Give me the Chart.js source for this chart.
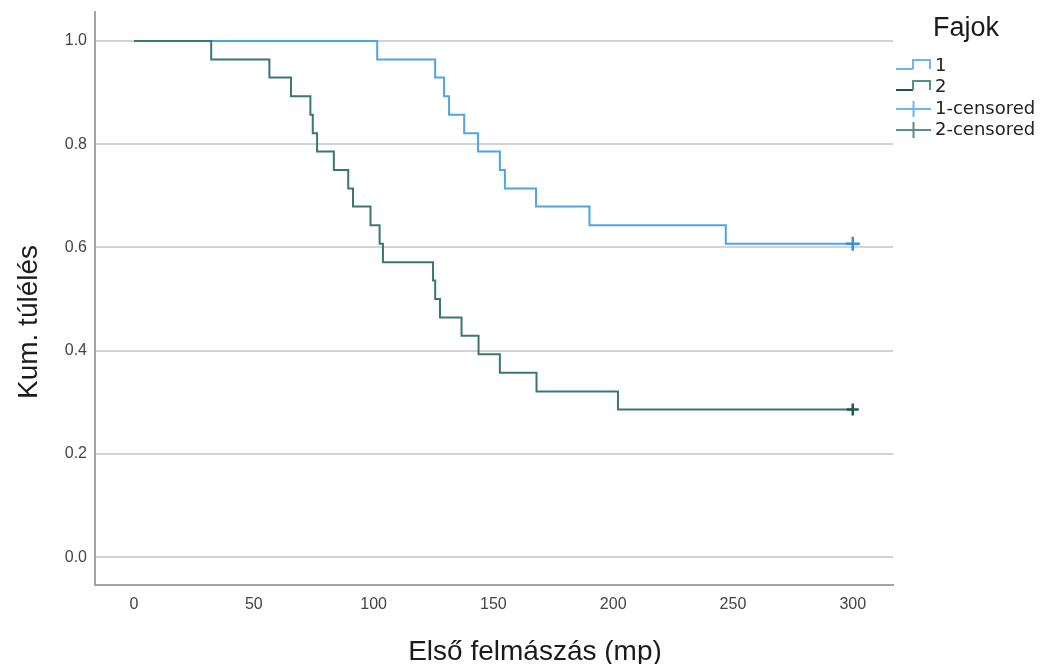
<!DOCTYPE html>
<html>
<head>
<meta charset="utf-8">
<title>Kaplan-Meier</title>
<script src="https://cdn.jsdelivr.net/npm/chart.js@4/dist/chart.umd.min.js"></script>
<style>
  body { margin: 0; background: #fff; }
  #km { display: block; }
</style>
</head>
<body>
<canvas id="km" width="1041" height="664"></canvas>
<script>
// event times (mp) and cumulative survival per group
var times1 = [0, 101.5, 125.7, 129.4, 131.5, 137.8, 143.6, 152.7, 154.8, 167.8, 190.1, 247, 300];
var surv1  = [1, 0.964, 0.929, 0.893, 0.857, 0.821, 0.786, 0.750, 0.714, 0.679, 0.643, 0.607, 0.607];

var times2 = [0, 32.2, 56.5, 65.5, 73.6, 74.6, 76.4, 83.4, 89.4, 91.4, 98.7, 102.5, 103.9,
              124.8, 125.7, 127.7, 136.7, 143.8, 152.7, 168.0, 202, 300];
var surv2  = [1, 0.964, 0.929, 0.893, 0.857, 0.821, 0.786, 0.750, 0.714, 0.679, 0.643, 0.607, 0.571,
              0.536, 0.500, 0.464, 0.429, 0.393, 0.357, 0.321, 0.286, 0.286];

// censored observations
var censTime1 = [300];
var censSurv1 = [0.607];
var censTime2 = [300];
var censSurv2 = [0.286];

var xTicks = [0, 50, 100, 150, 200, 250, 300];
var yTicks = [0.0, 0.2, 0.4, 0.6, 0.8, 1.0];

var groupNames = ["1", "2", "1-censored", "2-censored"];

var BLUE = "#4fa4e6";
var TEAL = "#3a7772";

function toPoints(xs, ys) {
    var pts = [];
    for (var i = 0; i < xs.length; i++) {
        pts.push({ x: xs[i], y: ys[i] });
    }
    return pts;
}

// axis titles and the legend box on the right
var decorations = {
    id: "decorations",
    afterDraw: function(chart) {
        var ctx = chart.ctx;
        ctx.save();
        ctx.fillStyle = "#1b1b1b";
        ctx.font = "28px 'Liberation Sans', Arial, sans-serif";
        ctx.textAlign = "center";
        ctx.textBaseline = "alphabetic";
        ctx.fillText("Első felmászás (mp)", 535, 660);

        ctx.save();
        ctx.translate(37, 322);
        ctx.rotate(-Math.PI / 2);
        ctx.fillText("Kum. túlélés", 0, 0);
        ctx.restore();

        ctx.textAlign = "left";
        ctx.font = "27px 'Liberation Sans', Arial, sans-serif";
        ctx.fillText("Fajok", 933, 36);

        ctx.font = "18px 'DejaVu Sans', sans-serif";
        ctx.textBaseline = "middle";
        ctx.fillStyle = "#222";
        var rows = [66, 87, 109, 130];
        ctx.lineWidth = 2;
        for (var i = 0; i < groupNames.length; i++) {
            var y = rows[i];
            if (i < 2) {
                var low = y + 3, high = y - 6;
                ctx.strokeStyle = i === 0 ? "#6db6ee" : "#24504d";
                ctx.beginPath();
                ctx.moveTo(896, low);
                ctx.lineTo(913, low);
                ctx.stroke();
                ctx.strokeStyle = i === 0 ? "#6db6ee" : "#55918c";
                ctx.beginPath();
                ctx.moveTo(913, low);
                ctx.lineTo(913, high);
                ctx.lineTo(930, high);
                ctx.lineTo(930, low);
                ctx.stroke();
            } else {
                ctx.strokeStyle = i === 2 ? "#6db6ee" : "#55918c";
                ctx.beginPath();
                ctx.moveTo(896, y);
                ctx.lineTo(931, y);
                ctx.moveTo(913.5, y - 8);
                ctx.lineTo(913.5, y + 8);
                ctx.stroke();
            }
            ctx.fillText(groupNames[i], 935, y);
        }
        ctx.restore();
    }
};

var ctx = document.getElementById("km").getContext("2d");
new Chart(ctx, {
    type: "line",
    data: {
        datasets: [
            {
                label: groupNames[0],
                data: toPoints(times1, surv1),
                borderColor: BLUE,
                borderWidth: 2,
                stepped: "before",
                pointRadius: 0,
                fill: false,
                order: 3
            },
            {
                label: groupNames[1],
                data: toPoints(times2, surv2),
                borderColor: TEAL,
                borderWidth: 2,
                stepped: "before",
                pointRadius: 0,
                fill: false,
                order: 2
            },
            {
                label: groupNames[2],
                type: "scatter",
                data: toPoints(censTime1, censSurv1),
                borderColor: "#3a8fd9",
                pointStyle: "cross",
                pointRadius: 7,
                pointBorderWidth: 2.5,
                order: 1
            },
            {
                label: groupNames[3],
                type: "scatter",
                data: toPoints(censTime2, censSurv2),
                borderColor: "#1f5a56",
                pointStyle: "cross",
                pointRadius: 6,
                pointBorderWidth: 2.5,
                order: 0
            }
        ]
    },
    options: {
        responsive: false,
        animation: false,
        layout: { padding: { top: 12, right: 148, left: 0, bottom: 0 } },
        plugins: {
            legend: { display: false },
            tooltip: { enabled: false }
        },
        scales: {
            x: {
                type: "linear",
                min: -16.3,
                max: 316.8,
                afterBuildTicks: function(scale) {
                    scale.ticks = xTicks.map(function(v) { return { value: v }; });
                },
                afterFit: function(scale) { scale.height = 79; },
                grid: { display: false },
                border: { display: true, color: "#a3a3a3", width: 2 },
                ticks: {
                    color: "#444",
                    padding: 2,
                    font: { family: "'Liberation Sans', Arial, sans-serif", size: 16 },
                    callback: function(v) { return String(v); }
                }
            },
            y: {
                type: "linear",
                min: -0.054,
                max: 1.056,
                afterBuildTicks: function(scale) {
                    scale.ticks = yTicks.map(function(v) { return { value: v }; });
                },
                afterFit: function(scale) {
                    scale.width = 95;
                    // labels sit well inside the range, no extra room needed
                    scale.paddingTop = 0;
                    scale.paddingBottom = 0;
                },
                grid: { color: "#d3d3d3", lineWidth: 2, drawTicks: false },
                border: { display: true, color: "#a3a3a3", width: 2 },
                ticks: {
                    color: "#444",
                    padding: 8,
                    font: { family: "'Liberation Sans', Arial, sans-serif", size: 16 },
                    callback: function(v) { return v.toFixed(1); }
                }
            }
        }
    },
    plugins: [decorations]
});
</script>
</body>
</html>
